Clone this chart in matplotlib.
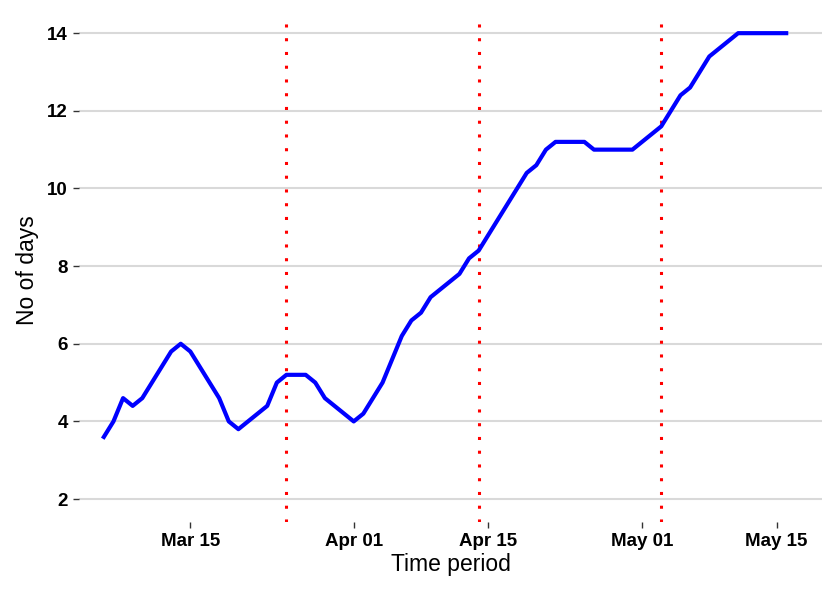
import numpy as np
import pandas as pd
import matplotlib
matplotlib.use("Agg")
import matplotlib.pyplot as plt
import matplotlib.dates as mdates

plt.rcParams['font.family'] = ['Liberation Sans', 'DejaVu Sans']

# daily values, Mar 06 .. May 16
start_date = "2020-03-06"
days_values = [3.6, 4.0, 4.6, 4.4, 4.6, 5.0, 5.4, 5.8, 6.0, 5.8,
               5.4, 5.0, 4.6, 4.0, 3.8, 4.0, 4.2, 4.4, 5.0, 5.2,
               5.2, 5.2, 5.0, 4.6, 4.4, 4.2, 4.0, 4.2, 4.6, 5.0,
               5.6, 6.2, 6.6, 6.8, 7.2, 7.4, 7.6, 7.8, 8.2, 8.4,
               8.8, 9.2, 9.6, 10.0, 10.4, 10.6, 11.0, 11.2, 11.2, 11.2,
               11.2, 11.0, 11.0, 11.0, 11.0, 11.0, 11.2, 11.4, 11.6, 12.0,
               12.4, 12.6, 13.0, 13.4, 13.6, 13.8, 14.0, 14.0, 14.0, 14.0,
               14.0, 14.0]
phase_dates = ["2020-03-25", "2020-04-14", "2020-05-03"]
x_ticks = ["2020-03-15", "2020-04-01", "2020-04-15", "2020-05-01", "2020-05-15"]
y_ticks = [2, 4, 6, 8, 10, 12, 14]

dates = pd.date_range(start_date, periods=len(days_values), freq="D")

fig = plt.figure(figsize=(8.3, 5.89), dpi=100)
ax = fig.add_axes([0.0952, 0.1138, 0.8952, 0.8556])

for y in y_ticks:
    ax.axhline(y, color="#d9d9d9", lw=1.5, zorder=0)

for d in phase_dates:
    ax.axvline(pd.Timestamp(d), color="red", lw=2.2, dashes=(1, 3.5), zorder=1)

ax.plot(dates, days_values, color="#0000ff", lw=3, solid_joinstyle="round", zorder=2)

ax.set_xlim(pd.Timestamp("2020-03-03 10:00"), pd.Timestamp("2020-05-19 17:30"))
ax.set_ylim(1.41, 14.39)
ax.set_yticks(y_ticks)
ax.set_xticks([pd.Timestamp(t) for t in x_ticks])
ax.xaxis.set_major_formatter(mdates.DateFormatter("%b %d"))

for s in ax.spines.values():
    s.set_visible(False)
ax.tick_params(axis="both", length=4, width=1, color="#333333", labelsize=13.5, pad=4)
for lab in ax.get_xticklabels() + ax.get_yticklabels():
    lab.set_fontweight("bold")

ax.set_xlabel("Time period", fontsize=16.5, labelpad=2)
ax.set_ylabel("No of days", fontsize=16.5, labelpad=6)

fig.savefig("out.png", dpi=100)
